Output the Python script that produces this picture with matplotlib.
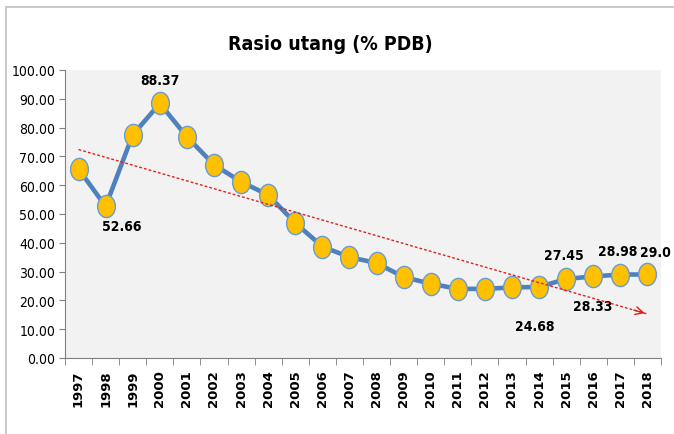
import numpy as np
import matplotlib
matplotlib.use('Agg')
import matplotlib.pyplot as plt
from matplotlib.path import Path
from matplotlib.transforms import Affine2D
from matplotlib.patches import Rectangle

years = [str(y) for y in range(1997, 2019)]
rasio = [65.6, 52.66, 77.5, 88.37, 76.8, 67.1, 61.2, 56.6, 46.9, 38.7, 35.0,
         33.0, 28.1, 25.8, 24.0, 24.0, 24.5, 24.68, 27.45, 28.33, 28.98, 29.0]
yticks = [0, 10, 20, 30, 40, 50, 60, 70, 80, 90, 100]

# labelled points: year -> (text, offset in pixels)
labels = {
  '1998': ('52.66', (16, -20)),
  '2000': ('88.37', (0, 23)),
  '2014': ('24.68', (-4, -39)),
  '2015': ('27.45', (-2, 24)),
  '2016': ('28.33', (-1, -30)),
  '2017': ('28.98', (-3, 24)),
  '2018': ('29.0', (8, 22)),
}

narrow = ['Liberation Sans Narrow', 'DejaVu Sans']

fig = plt.figure(figsize=(6.74, 4.35), dpi=100)
fig.patches.append(Rectangle((6 / 674, -0.1), 1.2, (435 - 8) / 435 + 0.1,
                             transform=fig.transFigure, facecolor='white',
                             edgecolor='#BFBFBF', linewidth=1.2, zorder=-5))
ax = fig.add_axes([65 / 674, 76 / 435, 596 / 674, 288 / 435])
ax.set_facecolor('#F2F2F2')

x = np.arange(len(years))
ellipse = Path.unit_circle().transformed(Affine2D().scale(0.8, 1.0))
ax.plot(x, rasio, color='#4F81BD', linewidth=3.3, marker=ellipse, markersize=16,
        markerfacecolor='#FFC000', markeredgecolor='#6A9BD1', markeredgewidth=1, zorder=3)

# linear trend line with arrow
k, b = np.polyfit(x, rasio, 1)
t0, t1 = k * x[0] + b, k * x[-1] + b
ax.plot([x[0], x[-1]], [t0, t1], color='#E0201B', linestyle=(0, (2, 1.5)), linewidth=1, zorder=4)
ax.annotate('', xy=(x[-1], t1), xytext=(x[-1] - 0.6, t1 + 0.6 * abs(k)),
            arrowprops=dict(arrowstyle='->', color='#E0201B', lw=1, mutation_scale=14), zorder=4)

for yr, (txt, off) in labels.items():
  i = years.index(yr)
  ax.annotate(txt, (x[i], rasio[i]), xytext=off, textcoords='offset pixels',
              ha='center', va='center', fontsize=10, fontweight='bold', fontstretch='condensed',
              family=narrow, color='black', annotation_clip=False)

ax.set_xlim(-0.5, len(years) - 0.5)
ax.set_ylim(0, 100)
ax.set_yticks(yticks)
ax.set_yticklabels(['%.2f' % v for v in yticks], family=narrow, fontsize=10, fontstretch='condensed')
ax.set_xticks(x)
ax.set_xticklabels(years, rotation=90, fontweight='bold', fontsize=9.5, family='DejaVu Sans')
ax.set_xticks(np.arange(-0.5, len(years), 1), minor=True)
ax.tick_params(axis='x', which='major', length=0, pad=8)
ax.tick_params(axis='x', which='minor', length=5, color='#808080')
ax.tick_params(axis='y', length=4, color='#808080', pad=3)
for s in ['top', 'right']:
  ax.spines[s].set_visible(False)
for s in ['left', 'bottom']:
  ax.spines[s].set_color('#808080')

fig.text(330 / 674, 1 - 45 / 435, 'Rasio utang (% PDB)', ha='center', va='center',
         fontsize=14, fontweight='bold', fontstretch='condensed', family=narrow)

fig.savefig('out.png', dpi=100)
